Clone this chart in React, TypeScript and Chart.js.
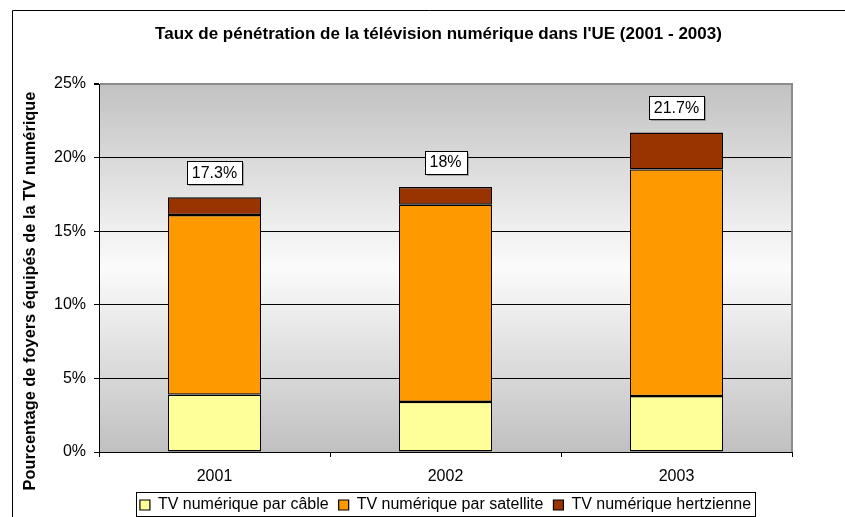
import React, { useEffect, useRef } from "react";
import { Chart, registerables } from "chart.js";

Chart.register(...registerables);

const years = ["2001", "2002", "2003"];
const cable = [3.9, 3.4, 3.8];
const satellite = [12.2, 13.4, 15.4];
const hertzienne = [1.2, 1.2, 2.5];
const seriesLabels = [
  "TV numérique par câble",
  "TV numérique par satellite",
  "TV numérique hertzienne",
];
const seriesColors = ["#FFFF99", "#FF9900", "#993300"];
const yMin = 0;
const yMax = 25;
const yStep = 5;
const chartTitle =
  "Taux de pénétration de la télévision numérique dans l'UE (2001 - 2003)";
const yTitle = "Pourcentage de foyers équipés de la TV numérique";

const FONT = "'Liberation Sans', Arial, sans-serif";
const BAR_BORDER = { left: 1, right: 1, top: 1.4, bottom: 1.4 };

const decorPlugin = {
  id: "decor",
  beforeDraw(chart: any) {
    const { ctx, chartArea } = chart;
    if (chart.titleBlock) {
      chart.titleBlock.left = chartArea.left - 7;
      chart.titleBlock.right = chartArea.right - 7;
    }
    ctx.save();
    // outer frame (left and top edges)
    ctx.strokeStyle = "#000";
    ctx.lineWidth = 1;
    ctx.beginPath();
    ctx.moveTo(12.5, chart.height + 2);
    ctx.lineTo(12.5, 10.5);
    ctx.lineTo(chart.width + 2, 10.5);
    ctx.stroke();
    // plot area gradient
    const g = ctx.createLinearGradient(0, chartArea.top, 0, chartArea.bottom);
    g.addColorStop(0, "#c2c2c2");
    g.addColorStop(0.5, "#fbfbfb");
    g.addColorStop(1, "#c0c0c0");
    ctx.fillStyle = g;
    ctx.fillRect(
      chartArea.left,
      chartArea.top,
      chartArea.right - chartArea.left,
      chartArea.bottom - chartArea.top
    );
    ctx.restore();
  },
  beforeDatasetsDraw(chart: any) {
    const { ctx, chartArea } = chart;
    ctx.save();
    ctx.strokeStyle = "#8c8c8c";
    ctx.lineWidth = 2;
    ctx.beginPath();
    ctx.moveTo(chartArea.right, chartArea.top - 1);
    ctx.lineTo(chartArea.right, chartArea.bottom);
    ctx.stroke();
    ctx.restore();
  },
  afterDatasetsDraw(chart: any) {
    const { ctx } = chart;
    const xs = chart.scales.x;
    const ys = chart.scales.y;
    ctx.save();
    ctx.font = `16px ${FONT}`;
    ctx.textAlign = "center";
    ctx.textBaseline = "middle";
    years.forEach((_, i) => {
      const total = cable[i] + satellite[i] + hertzienne[i];
      const text = `${parseFloat(total.toFixed(1))}%`;
      const cx = xs.getPixelForValue(i);
      const cy = ys.getPixelForValue(total) - 25;
      const w = Math.round(ctx.measureText(text).width + 10);
      const h = 23;
      const x0 = Math.round(cx - w / 2) + 0.5;
      const y0 = Math.round(cy - h / 2) + 0.5;
      ctx.fillStyle = "rgba(0,0,0,0.25)";
      ctx.fillRect(x0 + 1.5, y0 + 1.5, w, h);
      ctx.fillStyle = "#fff";
      ctx.fillRect(x0, y0, w, h);
      ctx.strokeStyle = "#000";
      ctx.lineWidth = 1;
      ctx.strokeRect(x0, y0, w, h);
      ctx.fillStyle = "#000";
      ctx.fillText(text, cx, cy + 1);
    });
    ctx.restore();
  },
  afterDraw(chart: any) {
    const { ctx } = chart;
    ctx.save();
    // y-axis title
    ctx.translate(30, 291);
    ctx.rotate(-Math.PI / 2);
    ctx.font = `bold 16.4px ${FONT}`;
    ctx.fillStyle = "#000";
    ctx.textAlign = "center";
    ctx.textBaseline = "middle";
    ctx.fillText(yTitle, 0, 0);
    ctx.restore();
    // legend frame
    const legend = chart.legend;
    if (legend && legend.legendHitBoxes && legend.legendHitBoxes.length) {
      const hb = legend.legendHitBoxes;
      let l = Infinity,
        r = -Infinity,
        t = Infinity;
      hb.forEach((b: any) => {
        l = Math.min(l, b.left);
        r = Math.max(r, b.left + b.width);
        t = Math.min(t, b.top);
      });
      ctx.save();
      ctx.strokeStyle = "#000";
      ctx.lineWidth = 1;
      ctx.strokeRect(
        Math.round(l - 4) + 0.5,
        Math.round(t - 5) + 0.5,
        Math.round(r - l + 8),
        24
      );
      ctx.restore();
    }
  },
};

export default function App() {
  const canvasRef = useRef<HTMLCanvasElement | null>(null);

  useEffect(() => {
    const canvas = canvasRef.current;
    if (!canvas) return;
    const mk = (i: number, data: number[]) => ({
      label: seriesLabels[i],
      data,
      backgroundColor: seriesColors[i],
      borderColor: "#000",
      borderWidth: BAR_BORDER,
      borderSkipped: false,
      inflateAmount: 0,
    });
    const chart = new Chart(canvas, {
      type: "bar",
      data: {
        labels: years,
        datasets: [mk(0, cable), mk(1, satellite), mk(2, hertzienne)],
      },
      options: {
        responsive: false,
        animation: false,
        events: [],
        layout: { padding: { left: 12, right: 53, top: 0, bottom: -6 } },
        datasets: {
          bar: { categoryPercentage: 1, barPercentage: 93 / 231 },
        },
        scales: {
          x: {
            stacked: true,
            offset: true,
            afterFit: (s: any) => {
              s.height = 35;
            },
            grid: {
              offset: true,
              drawOnChartArea: false,
              drawTicks: true,
              tickLength: 5,
              color: "#000",
            },
            border: { display: true, color: "#000", width: 1 },
            ticks: {
              padding: 10,
              color: "#000",
              font: { family: FONT, size: 16 },
            },
          },
          y: {
            stacked: true,
            min: yMin,
            max: yMax,
            afterFit: (s: any) => {
              s.width = 87;
            },
            grid: {
              drawTicks: true,
              tickLength: 5,
              color: (c: any) =>
                c.tick && c.tick.value === yMax ? "#8c8c8c" : "#000",
              lineWidth: (c: any) =>
                c.tick && c.tick.value === yMax ? 2 : 1,
              tickColor: "#000",
            },
            border: { display: true, color: "#000", width: 1 },
            ticks: {
              stepSize: yStep,
              padding: 8,
              color: "#000",
              font: { family: FONT, size: 16 },
              callback: (v: any) => `${v}%`,
            },
          },
        },
        plugins: {
          title: {
            display: true,
            text: chartTitle,
            color: "#000",
            font: { family: FONT, size: 17, weight: "bold" },
            padding: { top: 24, bottom: 39.6 },
            fullSize: false,
          },
          legend: {
            display: true,
            position: "bottom",
            fullSize: false,
            align: "center",
            labels: {
              boxWidth: 10,
              boxHeight: 10,
              padding: 10,
              color: "#000",
              font: { family: FONT, size: 16 },
            },
          },
          tooltip: { enabled: false },
        },
      },
      plugins: [decorPlugin],
    } as any);
    return () => chart.destroy();
  }, []);

  return (
    <div
      style={{
        position: "absolute",
        left: 0,
        top: 0,
        width: 845,
        height: 517,
        background: "#fff",
      }}
    >
      <canvas ref={canvasRef} width={845} height={517} />
    </div>
  );
}
